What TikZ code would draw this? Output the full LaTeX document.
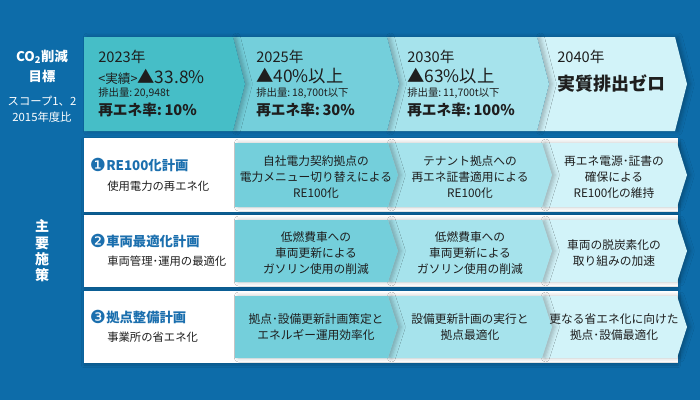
\documentclass[tikz,border=0pt]{standalone}
\usepackage{fontspec}
\setmainfont{Noto Sans CJK JP}
\newfontfamily\dingfont{DejaVu Sans}
\usetikzlibrary{shadows.blur}

\definecolor{bgblue}{HTML}{0D6CA9}
\definecolor{tealA}{HTML}{46BEC7}
\definecolor{tealB}{HTML}{74CFDB}
\definecolor{tealC}{HTML}{A6E3EC}
\definecolor{tealD}{HTML}{D2F3F9}
\definecolor{planblue}{HTML}{1B6FAE}
\definecolor{inktext}{HTML}{1E1E1E}

% chevron: style, left x, right x, top y, bottom y, tip depth, notch depth
\newcommand{\chev}[7]{%
    \fill[#1] (#2,#4) -- (#3,#4) -- ({#3+#6},{(#4+#5)/2}) -- (#3,#5) -- (#2,#5) -- ({#2+#7},{(#4+#5)/2}) -- cycle;}

\tikzset{
    x=0.75pt, y=-0.75pt, % one unit is one pixel of the reference
    every node/.style={inner sep=0pt, text=inktext},
    chevshadow/.style={blur shadow={shadow xshift=2.5pt, shadow yshift=0pt, shadow blur radius=3pt, shadow opacity=25}},
    rowpanel/.style={fill=white, blur shadow={shadow xshift=0pt, shadow yshift=-1.5pt, shadow blur radius=2pt, shadow opacity=20}},
    sidelbl/.style={align=center, text=white, font=\bfseries\fontsize{10}{12}\selectfont}, % left column titles
    sidesub/.style={align=center, text=white, font=\fontsize{8.5}{10}\selectfont},
    yearlbl/.style={anchor=west, font=\fontsize{11}{13}\selectfont},
    targetlbl/.style={anchor=west, font=\fontsize{13}{15}\selectfont},
    emitlbl/.style={anchor=west, font=\fontsize{7.8}{9}\selectfont},
    relbl/.style={anchor=west, font=\bfseries\fontsize{11}{13}\selectfont},
    planlbl/.style={anchor=west, text=planblue, font=\bfseries\fontsize{10}{12}\selectfont},
    plansub/.style={anchor=west, font=\fontsize{8.5}{10}\selectfont},
    steplbl/.style={align=center, font=\fontsize{8.8}{12}\selectfont},
    numding/.style={text=planblue, font=\dingfont\fontsize{13.5}{14}\selectfont},
}

\begin{document}
\begin{tikzpicture}
    \fill[bgblue] (0,0) rectangle (700,400);
    \useasboundingbox (0,0) rectangle (700,400);

    % targets row
    \chev{fill=tealD, chevshadow}{537}{675}{37}{131}{12}{12}
    \chev{fill=tealC, chevshadow}{387}{537}{37}{131}{12}{12}
    \chev{fill=tealB, chevshadow}{233}{387}{37}{131}{12}{12}
    \chev{fill=tealA, chevshadow}{84}{233}{37}{131}{12}{0}

    % plan rows
    \fill[rowpanel] (84,138) rectangle (678,212);
    \fill[rowpanel] (84,215) rectangle (678,287);
    \fill[rowpanel] (84,291) rectangle (678,363);
    \foreach \yt/\yb in {143/207, 220/282, 296/358}{
        \chev{fill=tealD, chevshadow}{542}{677}{\yt}{\yb}{10}{10}
        \chev{fill=tealC, chevshadow}{388}{542}{\yt}{\yb}{10}{10}
        \chev{fill=tealB, chevshadow}{235}{388}{\yt}{\yb}{10}{0}
    }

    % left column
    \node[sidelbl] (co2) at (42,57) {CO\textsubscript{2}削減};
    \node[sidelbl] (goal) at (42,76) {目標};
    \node[sidesub] (scope) at (42,101) {スコープ1、2};
    \node[sidesub] (base) at (42,117) {2015年度比};
    \node[sidelbl, font=\bfseries\fontsize{10.5}{12.3}\selectfont] (measures) at (42,251) {主\\要\\施\\策};

    % 2023
    \node[yearlbl] (y2023) at (98,57) {2023年};
    \node[targetlbl] (t2023) at (98,77) {{\fontsize{9.5}{10}\selectfont <実績>}▲33.8\%};
    \node[emitlbl] (e2023) at (98,93) {排出量:\,20,948t};
    \node[relbl] (r2023) at (98,110) {再エネ率:\,10\%};
    % 2025
    \node[yearlbl] (y2025) at (256,57) {2025年};
    \node[targetlbl] (t2025) at (256,76) {▲40\%以上};
    \node[emitlbl] (e2025) at (256,93) {排出量:\,18,700t以下};
    \node[relbl] (r2025) at (256,110) {再エネ率:\,30\%};
    % 2030
    \node[yearlbl] (y2030) at (407,57) {2030年};
    \node[targetlbl] (t2030) at (407,76) {▲63\%以上};
    \node[emitlbl] (e2030) at (407,93) {排出量:\,11,700t以下};
    \node[relbl] (r2030) at (407,110) {再エネ率:\,100\%};
    % 2040
    \node[yearlbl] (y2040) at (557,57) {2040年};
    \node[targetlbl, font=\bfseries\fontsize{13.5}{16}\selectfont] (t2040) at (557,83) {実質排出ゼロ};

    % plan 1
    \node[numding] (n1) at (98,165) {❶};
    \node[planlbl] (p1) at (106,165) {RE100化計画};
    \node[plansub] (p1s) at (107,186) {使用電力の再エネ化};
    \node[steplbl] (p1a) at (316,177) {自社電力契約拠点の\\電力メニュー切り替えによる\\RE100化};
    \node[steplbl] (p1b) at (470,177) {テナント拠点への\\再エネ証書適用による\\RE100化};
    \node[steplbl] (p1c) at (614,177) {再エネ電源･証書の\\確保による\\RE100化の維持};
    % plan 2
    \node[numding] (n2) at (98,241) {❷};
    \node[planlbl] (p2) at (106,241) {車両最適化計画};
    \node[plansub] (p2s) at (107,261) {車両管理･運用の最適化};
    \node[steplbl] (p2a) at (316,253) {低燃費車への\\車両更新による\\ガソリン使用の削減};
    \node[steplbl] (p2b) at (470,253) {低燃費車への\\車両更新による\\ガソリン使用の削減};
    \node[steplbl] (p2c) at (614,253) {車両の脱炭素化の\\取り組みの加速};
    % plan 3
    \node[numding] (n3) at (98,317) {❸};
    \node[planlbl] (p3) at (106,317) {拠点整備計画};
    \node[plansub] (p3s) at (107,337) {事業所の省エネ化};
    \node[steplbl] (p3a) at (316,327) {拠点･設備更新計画策定と\\エネルギー運用効率化};
    \node[steplbl] (p3b) at (470,327) {設備更新計画の実行と\\拠点最適化};
    \node[steplbl] (p3c) at (614,327) {更なる省エネ化に向けた\\拠点･設備最適化};
\end{tikzpicture}
\end{document}
